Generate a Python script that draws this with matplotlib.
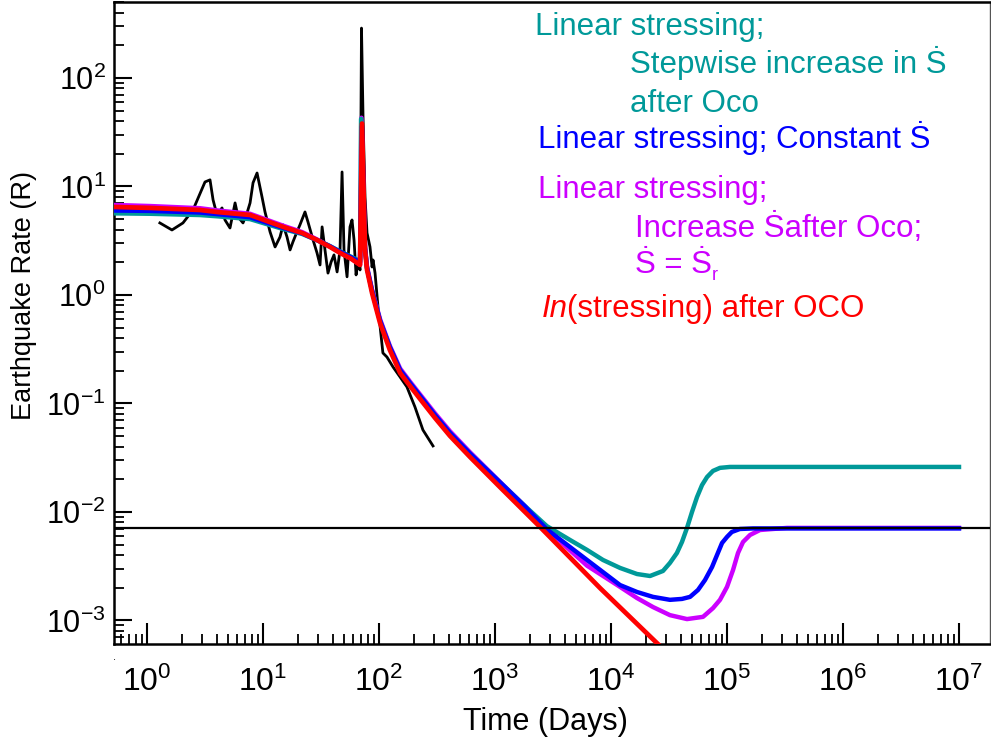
import matplotlib

matplotlib.use("Agg")
import matplotlib.pyplot as plt
import numpy as np
from matplotlib.ticker import LogLocator, NullFormatter

# observed earthquake rate (days, rate)
obs_days = [1.29, 1.64, 2.04, 2.49, 3.16, 3.49, 3.71, 4.01, 4.43, 4.70, 5.19, 5.74,
            6.09, 6.72, 7.28, 7.73, 8.20, 8.88, 9.80, 10.4, 11.5, 12.7, 14.0, 14.9,
            16.1, 17.1, 18.1, 19.6, 20.8, 23.0, 24.4, 27.0, 29.2, 31.0, 32.3, 34.2,
            36.3, 38.6, 40.9, 43.5, 46.1, 48.0, 49.9, 53.0, 56.2, 58.5, 60.9, 63.4,
            65.9, 68.6, 70.6, 72.8, 75.7, 78.8, 83.6, 87.1, 88.8, 92.4, 98.0, 108,
            117, 132, 152, 174, 204, 239, 292]
obs_rate = [4.61, 3.97, 4.61, 6.07, 11.0, 11.5, 7.51, 5.46, 6.34, 4.91, 4.14, 7.05,
            5.24, 4.61, 5.70, 7.05, 10.8, 13.3, 8.00, 5.82, 3.81, 2.77, 3.42, 4.42,
            3.42, 2.60, 3.08, 3.81, 4.42, 5.82, 4.71, 3.21, 2.44, 1.89, 4.24, 2.60,
            1.59, 2.01, 2.34, 1.63, 2.60, 13.6, 2.60, 1.47, 4.24, 4.91, 3.21, 1.53,
            2.01, 1.70, 288, 43.7, 8.00, 3.73, 2.77, 1.81, 2.10, 1.59, 0.775, 0.292,
            0.268, 0.217, 0.175, 0.142, 0.0929, 0.0570, 0.0406]

# background rate
r_background = 0.00713

# model: linear stressing, stepwise increase in S-dot after Oco
step_days = [0.52, 1.06, 2.86, 4.09, 7.73, 14.9, 21.7, 29.2, 37.8, 46.1, 57.4, 68.6,
             70.0, 75.7, 78.8, 87.1, 94.2, 102, 124, 152, 185, 226, 304, 409, 609,
             1100, 1800, 2800, 4430, 6210, 8530, 11960, 16750, 21700, 28050, 32200,
             37000, 40900, 45200, 49900, 55100, 60900, 67300, 75700, 87000, 106000,
             1.0e7]
step_rate = [5.65, 5.6, 5.45, 5.3, 5.0, 4.05, 3.65, 3.2, 2.82, 2.52, 2.25, 2.05,
             42, 2.7, 1.77, 1.09, 0.80, 0.58, 0.33, 0.203, 0.154, 0.117, 0.078, 0.0535,
             0.0345, 0.0188, 0.0114, 0.0074, 0.00552, 0.00447, 0.00361, 0.00305,
             0.00268, 0.00257, 0.00286, 0.00339, 0.00419, 0.00529, 0.00713, 0.0100,
             0.0137, 0.0177, 0.0210, 0.0239, 0.0255, 0.0260, 0.0260]

# model: linear stressing, constant S-dot
const_days = [0.52, 1.06, 2.86, 4.09, 7.73, 14.9, 21.7, 29.2, 37.8, 46.1, 57.4, 68.6,
              71.3, 75.7, 78.8, 87.1, 94.2, 102, 124, 152, 185, 226, 304, 409, 609,
              1100, 1800, 2800, 6210, 11960, 16750, 23000, 32200, 40900, 48000, 56200,
              64600, 74300, 82000, 90600, 100000, 110000, 129000, 167500, 1.0e7]
const_rate = [6.0, 5.95, 5.75, 5.55, 5.2, 4.15, 3.7, 3.2, 2.8, 2.5, 2.22, 2.0,
              36, 2.7, 1.77, 1.09, 0.80, 0.58, 0.33, 0.203, 0.154, 0.117, 0.078,
              0.0535, 0.0345, 0.0188, 0.0113, 0.0069, 0.00361, 0.00212, 0.00183,
              0.00165, 0.00155, 0.00158, 0.00165, 0.00191, 0.00236, 0.00311, 0.00401,
              0.00518, 0.00589, 0.00654, 0.00697, 0.00705, 0.00705]

# model: linear stressing, S-dot increased after Oco, S-dot = S-dot_r
incr_days = [0.52, 1.06, 2.86, 4.09, 7.73, 14.9, 21.7, 29.2, 37.8, 46.1, 57.4, 68.6,
             70.5, 75.7, 78.8, 87.1, 94.2, 102, 124, 152, 185, 226, 304, 409, 609,
             1100, 1800, 2800, 6210, 11960, 16750, 23000, 32200, 45200, 62100, 75700,
             87000, 100000, 112700, 124400, 137400, 158000, 192500, 249000, 329000,
             1.0e7]
incr_rate = [6.75, 6.6, 6.3, 6.0, 5.6, 4.35, 3.8, 3.25, 2.8, 2.46, 2.17, 1.9,
             43, 2.8, 1.82, 1.12, 0.82, 0.60, 0.34, 0.21, 0.159, 0.121, 0.081, 0.0555,
             0.0355, 0.0190, 0.0114, 0.0069, 0.0032, 0.00204, 0.00161, 0.00133,
             0.00112, 0.00103, 0.00108, 0.00130, 0.00155, 0.00204, 0.00292, 0.00419,
             0.00529, 0.00614, 0.00682, 0.00697, 0.00713, 0.00713]

# model: ln(stressing) after OCO
ln_days = [0.52, 1.06, 2.86, 4.09, 7.73, 14.9, 21.7, 29.2, 37.8, 46.1, 57.4, 68.6,
           71.3, 75.7, 78.8, 87.1, 94.2, 102, 124, 152, 185, 226, 304, 409, 609, 1100,
           2443, 8040, 26400, 58500]
ln_rate = [6.47, 6.34, 6.07, 5.8, 5.46, 4.24, 3.73, 3.21, 2.77, 2.44, 2.16, 1.89,
           38, 2.6, 1.70, 1.04, 0.759, 0.552, 0.311, 0.191, 0.145, 0.110, 0.0735,
           0.0502, 0.0321, 0.0170, 0.00728, 0.00199, 0.000582, 0.000255]

TEAL = "#009999"
BLUE = "#0000FF"
MAGENTA = "#CC00FF"
RED = "#FF0000"

W, H = 991, 744


def fpos(x, y):
    """pixel position -> figure fraction"""
    return x / W, 1 - y / H


def main() -> None:
    plt.rcParams["font.family"] = ["Liberation Sans", "DejaVu Sans"]
    plt.rcParams["mathtext.fontset"] = "custom"
    plt.rcParams["mathtext.rm"] = "Liberation Sans"
    plt.rcParams["mathtext.it"] = "Liberation Sans:italic"

    fig = plt.figure(figsize=(W / 100, H / 100), dpi=100)
    ax = fig.add_axes([114 / W, 100 / H, 876 / W, 642 / H])

    ax.plot(obs_days, obs_rate, color="black", lw=2.0, zorder=2)
    ax.plot(incr_days, incr_rate, color=MAGENTA, lw=3.2, zorder=3)
    ax.plot(step_days, step_rate, color=TEAL, lw=3.2, zorder=3)
    ax.plot(const_days, const_rate, color=BLUE, lw=3.2, zorder=3)
    ax.plot(ln_days, ln_rate, color=RED, lw=3.4, zorder=4)
    ax.axhline(r_background, color="black", lw=1.6, zorder=5)

    ax.set_xscale("log")
    ax.set_yscale("log")
    ax.set_xticks([10.0 ** k for k in range(0, 8)])
    ax.set_yticks([10.0 ** k for k in range(-3, 3)])
    ax.set_xlim(0.519, 1.85e7)
    ax.set_ylim(6.07e-4, 501)

    for axis in (ax.xaxis, ax.yaxis):
        axis.set_minor_locator(LogLocator(base=10, subs=np.arange(2, 10), numticks=20))
        axis.set_minor_formatter(NullFormatter())

    ax.tick_params(which="both", direction="in", top=False, right=False, color="black")
    ax.tick_params(axis="x", which="major", length=15, width=1.5, labelsize=23, pad=16)
    ax.tick_params(axis="x", which="minor", length=7.5, width=1.3)
    ax.tick_params(axis="y", which="major", length=13, width=1.5, labelsize=22, pad=6)
    ax.tick_params(axis="y", which="minor", length=7, width=1.3)

    for side in ("left", "bottom", "top"):
        ax.spines[side].set_linewidth(1.8)
    ax.spines["right"].set_linewidth(1.0)
    ax.spines["right"].set_color("#555555")

    fig.text(*fpos(545, 722), "Time (Days)", fontsize=22, ha="center", va="center")
    fig.text(*fpos(24, 295), "Earthquake Rate (R)", fontsize=19.5, rotation=90,
             ha="center", va="center")
    fig.text(*fpos(115, 657), ".", fontsize=8, ha="center", va="center")

    # model labels, coloured like their curves
    fs = 22.5
    fig.text(*fpos(535, 35), "Linear stressing;", color=TEAL, fontsize=fs, va="baseline")
    fig.text(*fpos(630, 73), "Stepwise increase in Ṡ", color=TEAL, fontsize=fs, va="baseline")
    fig.text(*fpos(630, 112), "after Oco", color=TEAL, fontsize=fs, va="baseline")
    fig.text(*fpos(538, 148), "Linear stressing; Constant Ṡ", color=BLUE, fontsize=fs,
             va="baseline")
    fig.text(*fpos(538, 198), "Linear stressing;", color=MAGENTA, fontsize=fs, va="baseline")
    fig.text(*fpos(635, 237), "Increase Ṡafter Oco;", color=MAGENTA, fontsize=fs,
             va="baseline")
    s_eq = fig.text(*fpos(635, 273), "Ṡ = Ṡ", color=MAGENTA, fontsize=fs, va="baseline")
    t_in = fig.text(*fpos(542, 317), "In", color=RED, fontsize=fs, style="italic",
                    va="baseline")
    fig.canvas.draw()
    fig.text(*fpos(635 + s_eq.get_window_extent().width, 280), "r", color=MAGENTA,
             fontsize=13, va="baseline")
    fig.text(*fpos(542 + t_in.get_window_extent().width - 1, 317), "(stressing) after OCO",
             color=RED, fontsize=fs, va="baseline")

    fig.savefig("out.png", dpi=100)


if __name__ == "__main__":
    main()
